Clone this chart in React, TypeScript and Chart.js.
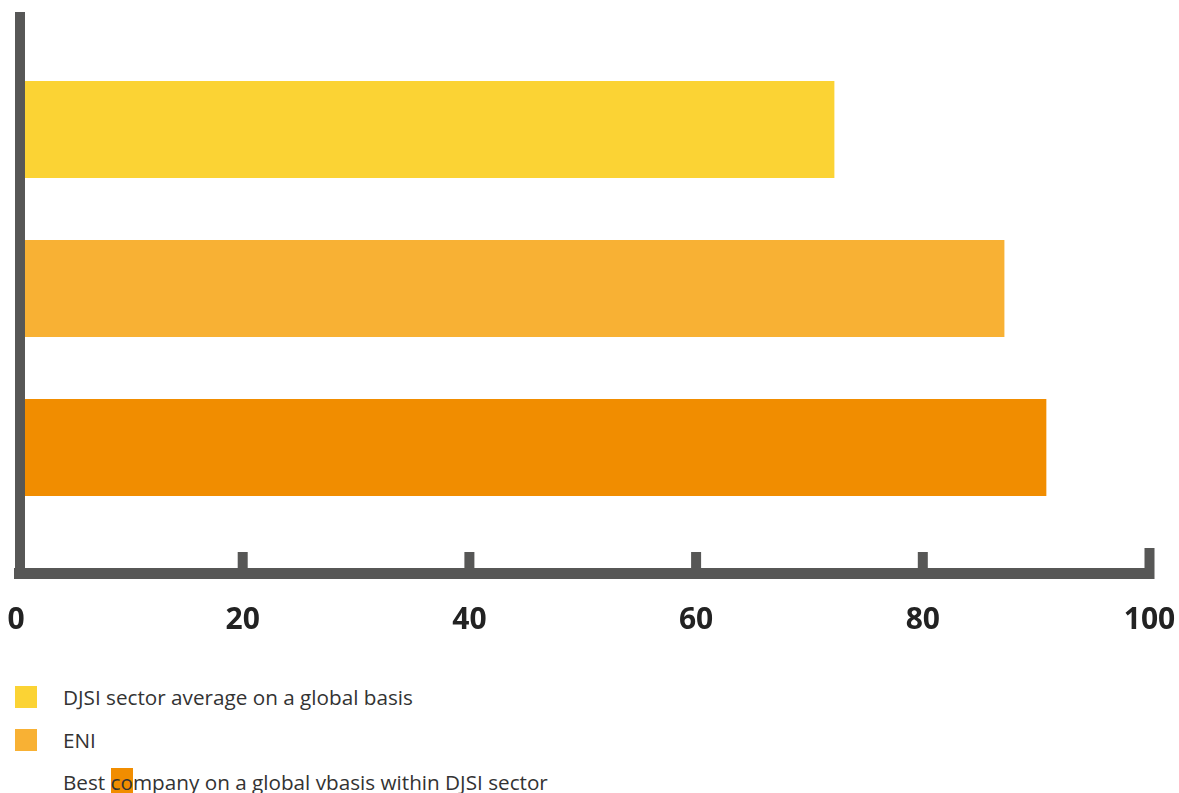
import React, { useEffect, useRef } from "react";
import { Chart, registerables } from "chart.js";

Chart.register(...registerables);

const categories = [
  "DJSI sector average on a global basis",
  "ENI",
  "Best company on a global vbasis within DJSI sector",
];
const scores = [72.2, 87.2, 90.9];
const barColors = ["#FBD334", "#F8B134", "#F18D00"];
const tickValues = [0, 20, 40, 60, 80, 100];

const AXIS_COLOR = "#575756";

const axisPlugin = {
  id: "customAxes",
  afterDatasetsDraw(chart: any) {
    const { ctx, chartArea, scales } = chart;
    const xs = scales.x;
    const zero = xs.getPixelForValue(0);
    const right = xs.getPixelForValue(100);
    const lineTop = chartArea.bottom + 41;
    const lineH = 11;
    ctx.save();
    ctx.fillStyle = AXIS_COLOR;
    // vertical axis
    ctx.fillRect(zero - 1, 12, 10, lineTop + lineH - 12);
    // horizontal axis
    ctx.fillRect(zero - 2, lineTop, right + 5 - (zero - 2), lineH);
    // tick marks
    tickValues.forEach((v, i) => {
      if (v === 0) return;
      const px = xs.getPixelForValue(v);
      const h = i === tickValues.length - 1 ? 20 : 16;
      ctx.fillRect(px - 5, lineTop - h, 10, h);
    });
    ctx.restore();
  },
};

export default function App() {
  const canvasRef = useRef<HTMLCanvasElement | null>(null);

  useEffect(() => {
    document.body.style.margin = "0";
    const canvas = canvasRef.current;
    if (!canvas) return;
    const chart = new Chart(canvas, {
      type: "bar",
      data: {
        labels: categories,
        datasets: [
          {
            data: scores,
            backgroundColor: barColors,
            borderWidth: 0,
            categoryPercentage: 1,
            barPercentage: 0.61,
          },
        ],
      },
      options: {
        indexAxis: "y",
        animation: false,
        responsive: false,
        layout: { padding: { left: 16, right: 29.5, top: 50, bottom: 17 } },
        plugins: {
          legend: { display: false },
          tooltip: { enabled: false },
        },
        scales: {
          x: {
            min: 0,
            max: 100,
            afterBuildTicks: (scale: any) => {
              scale.ticks = tickValues.map((v) => ({ value: v }));
            },
            afterFit: (scale: any) => {
              scale.paddingLeft = 0;
              scale.paddingRight = 0;
              scale.height = 116;
            },
            grid: { display: false, drawTicks: false },
            border: { display: false },
            ticks: {
              padding: 75,
              color: "#222222",
              font: { family: "'Open Sans', sans-serif", weight: "bold", size: 30 },
            },
          },
          y: {
            display: false,
            grid: { display: false },
          },
        },
      },
      plugins: [axisPlugin],
    } as any);
    return () => chart.destroy();
  }, []);

  const legendTops = [686, 729, 771];

  return (
    <div style={{ position: "relative", width: 1179, height: 793, background: "#fff", overflow: "hidden" }}>
      <canvas
        ref={canvasRef}
        width={1179}
        height={660}
        style={{ position: "absolute", left: 0, top: 0, width: 1179, height: 660 }}
      />
      {categories.map((label, i) => {
        const isLast = i === categories.length - 1;
        return (
          <div
            key={label}
            style={{
              position: "absolute",
              left: 0,
              top: legendTops[i],
              height: 22,
              width: 1179,
              fontFamily: "'Open Sans', sans-serif",
              fontSize: 20.7,
              lineHeight: "22px",
              color: "#333333",
            }}
          >
            {!isLast && (
              <div
                style={{
                  position: "absolute",
                  left: 15,
                  top: 0,
                  width: 22,
                  height: 22,
                  background: barColors[i],
                }}
              />
            )}
            <div style={{ position: "absolute", left: 63, top: 0, whiteSpace: "nowrap" }}>
              {isLast ? (
                <>
                  {label.slice(0, 5)}
                  <span style={{ background: barColors[i] }}>{label.slice(5, 7)}</span>
                  {label.slice(7)}
                </>
              ) : (
                label
              )}
            </div>
          </div>
        );
      })}
    </div>
  );
}
